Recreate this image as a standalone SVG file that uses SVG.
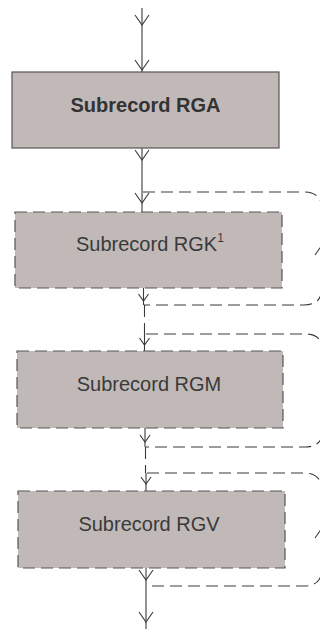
<svg xmlns="http://www.w3.org/2000/svg" xmlns:xlink="http://www.w3.org/1999/xlink" width="320" height="629" viewBox="0 0 320 629">
<style>
  .box{fill:#c1b9b7;stroke:#555;stroke-width:1.2}
  .dbox{fill:#c1b9b7;stroke:#555;stroke-width:1.2;stroke-dasharray:12 6}
  .ln{fill:none;stroke:#3a3a3a;stroke-width:1.1}
  .dl{fill:none;stroke:#3a3a3a;stroke-width:1.1;stroke-dasharray:12 6}
  .ah{fill:none;stroke:#3a3a3a;stroke-width:1.1}
  .t{font-family:"Liberation Sans",Arial,Helvetica,sans-serif;font-size:20px;fill:#3a3a3a}
  .tb{font-family:"Liberation Sans",Arial,Helvetica,sans-serif;font-size:20px;font-weight:bold;fill:#333}
</style>
<defs>
  <path id="big" class="ah" d="M-7,-10 L0,0 L7,-10"/>
  <path id="sm" class="ah" d="M-5,-7 L0,0 L5,-7"/>
</defs>
<rect width="320" height="629" fill="#fff"/>
<g id="connectors">
  <path class="ln" d="M142 8 V72"/>
  <path class="ln" d="M142 148 V212"/>
  <path class="ln" d="M143.5 288 V305"/>
  <path class="dl" d="M144.5 305 V334"/>
  <path class="ln" d="M144.5 334 V351"/>
  <path class="ln" d="M145 428 V447"/>
  <path class="dl" d="M145.5 447 V473"/>
  <path class="ln" d="M146 473 V491"/>
  <path class="ln" d="M146 568 V629"/>
  <path class="dl" d="M143 192 H304 Q322 192 322 210 V287 Q322 305 304 305 H144"/>
  <path class="dl" d="M146 334 H305 Q323 334 323 352 V429 Q323 447 305 447 H146"/>
  <path class="dl" d="M147 473 H304 Q322 473 322 491 V568 Q322 586 304 586 H147"/>
  <use xlink:href="#big" x="142" y="25"/>
  <use xlink:href="#big" x="142" y="70"/>
  <use xlink:href="#big" x="142" y="160"/>
  <use xlink:href="#big" x="142" y="203"/>
  <use xlink:href="#sm" x="143.5" y="301"/>
  <use xlink:href="#sm" x="144.5" y="345"/>
  <use xlink:href="#sm" x="145" y="442"/>
  <use xlink:href="#sm" x="146" y="484"/>
  <use xlink:href="#big" x="146" y="580"/>
  <use xlink:href="#big" x="146" y="622"/>
  <path class="ah" d="M315,255 L322,245 L329,255"/>
  <path class="ah" d="M315,538 L322,528 L329,538"/>
</g>
<g id="rga">
  <rect class="box" x="12" y="72" width="267" height="76"/>
  <text class="tb" x="145.5" y="112" text-anchor="middle">Subrecord RGA</text>
</g>
<g id="rgk">
  <rect class="dbox" x="15" y="212" width="267" height="76"/>
  <text class="t" x="76" y="251">Subrecord RGK<tspan font-size="12" dy="-9">1</tspan></text>
</g>
<g id="rgm">
  <rect class="dbox" x="17" y="351" width="266" height="77"/>
  <text class="t" x="149" y="391" text-anchor="middle">Subrecord RGM</text>
</g>
<g id="rgv">
  <rect class="dbox" x="18" y="491" width="267" height="77"/>
  <text class="t" x="149" y="531" text-anchor="middle">Subrecord RGV</text>
</g>
</svg>
